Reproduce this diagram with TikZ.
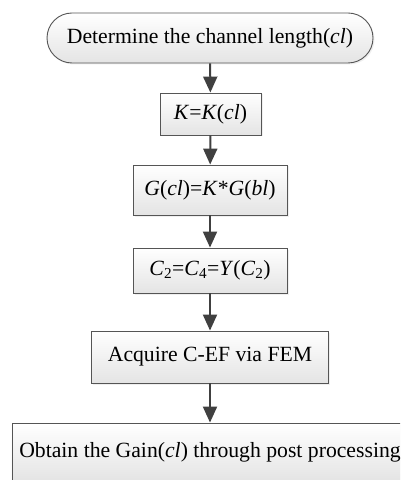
\documentclass[tikz,border=0pt]{standalone}
\usepackage{fontspec}
\setmainfont{Liberation Serif}
\usetikzlibrary{arrows.meta,shapes.misc,shadows}
\definecolor{boxline}{HTML}{555555}
\definecolor{boxbot}{HTML}{E4E4E4}
\definecolor{arrowc}{HTML}{404040}
\begin{document}
\begin{tikzpicture}[x=1bp,y=-1bp,
  flowbox/.style={draw=boxline, line width=0.9bp, top color=white, bottom color=boxbot,
    inner sep=0pt, font=\fontsize{21.7bp}{26bp}\selectfont,
    drop shadow={opacity=0.12, shadow xshift=1.5bp, shadow yshift=-1.5bp}},
  flowarrow/.style={draw=arrowc, line width=2bp, -{Triangle[length=16bp,width=14bp]}}]
\useasboundingbox (0,0) rectangle (400,480);
\fill[white] (0,0) rectangle (400,480);
\begin{scope}
\clip (0,0) rectangle (400,480);
\node[flowbox, rounded rectangle, minimum width=326bp, minimum height=50bp] (start) at (210,38)
  {Determine the channel length(\textit{cl})};
\node[flowbox, rectangle, minimum width=101bp, minimum height=42bp] (k) at (210.5,114)
  {\textit{K}=\textit{K}(\textit{cl})};
\node[flowbox, rectangle, minimum width=154bp, minimum height=50bp] (g) at (210,190)
  {\textit{G}(\textit{cl})=\textit{K}*\textit{G}(\textit{bl})};
\node[flowbox, rectangle, minimum width=154bp, minimum height=45bp] (c) at (210,270.5)
  {\textit{C}\textsubscript{2}=\textit{C}\textsubscript{4}=\textit{Y}(\textit{C}\textsubscript{2})};
\node[flowbox, rectangle, minimum width=237bp, minimum height=52bp] (fem) at (210,357)
  {Acquire C-EF via FEM};
\node[flowbox, rectangle, minimum width=396bp, minimum height=58bp] (gain) at (210,452)
  {Obtain the Gain(\textit{cl}) through post processing};
\draw[flowarrow] (start) -- (k);
\draw[flowarrow] (k) -- (g);
\draw[flowarrow] (g) -- (c);
\draw[flowarrow] (c) -- (fem);
\draw[flowarrow] (fem) -- (gain);
\end{scope}
\end{tikzpicture}
\end{document}
